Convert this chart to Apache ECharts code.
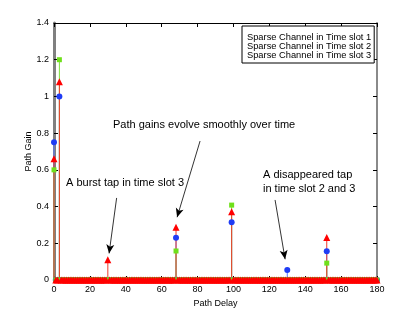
<!DOCTYPE html>
<html><head><meta charset="utf-8">
<script src="https://cdn.jsdelivr.net/npm/echarts@6/dist/echarts.min.js"></script>
<style>html,body{margin:0;padding:0;background:#fff}#c{width:415px;height:316px}</style>
</head><body><div id="c"></div>
<script>
// Path delays 0..180 (every delay has a marker; most gains are zero)
var maxDelay = 180;
// Non-zero taps
var tapDelays = [0, 3, 30, 68, 99, 130, 152];
var slot1Gains = [0.75, 1.00, 0, 0.23, 0.315, 0.055, 0.157];
var slot2Gains = [0.60, 1.20, 0, 0.158, 0.408, 0, 0.092];
var slot3Gains = [0.66, 1.08, 0.11, 0.287, 0.372, 0, 0.232];
var seriesNames = ['Sparse Channel in Time slot 1', 'Sparse Channel in Time slot 2', 'Sparse Channel in Time slot 3'];
var xTicks = [0, 20, 40, 60, 80, 100, 120, 140, 160, 180];
var yTicks = [0, 0.2, 0.4, 0.6, 0.8, 1, 1.2, 1.4];

function fullSeries(gains) {
  var out = [];
  for (var d = 0; d <= maxDelay; d++) {
    var i = tapDelays.indexOf(d);
    out.push([d, i >= 0 ? gains[i] : 0]);
  }
  return out;
}
var data1 = fullSeries(slot1Gains), data2 = fullSeries(slot2Gains), data3 = fullSeries(slot3Gains);

var font = 'Liberation Sans, Arial, Helvetica, sans-serif';
var chart = echarts.init(document.getElementById('c'), null, {renderer: 'canvas'});

function stems(data, color) {
  return {
    type: 'custom', silent: true, animation: false,
    data: data.filter(function (p) { return p[1] !== 0; }),
    renderItem: function (params, api) {
      var p0 = api.coord([api.value(0), 0]);
      var p1 = api.coord([api.value(0), api.value(1)]);
      return {type: 'line', shape: {x1: p0[0], y1: p0[1], x2: p1[0], y2: p1[1]},
        style: {stroke: color, lineWidth: 1}};
    }
  };
}
function markers(name, data, symbol, size, color) {
  return {
    type: 'scatter', name: name, data: data, symbol: symbol, symbolSize: size,
    itemStyle: {color: color, opacity: 1}, animation: false, silent: true
  };
}

var arrows = [
  [[34.9, 0.447], [30.7, 0.145]],
  [[81.4, 0.757], [68.6, 0.342]],
  [[123.2, 0.436], [128.8, 0.113]]
];

var option = {
  backgroundColor: '#fff',
  animation: false,
  grid: {left: 54, right: 38, top: 23, bottom: 36, containLabel: false},
  legend: {
    orient: 'vertical', left: 242, top: 26,
    data: seriesNames,
    icon: 'rect', itemWidth: 0, itemHeight: 9, itemGap: 0,
    padding: [7, 3, 3, 0],
    borderColor: '#000', borderWidth: 1, backgroundColor: '#fff',
    textStyle: {fontFamily: font, fontSize: 9.3, color: '#000', lineHeight: 9},
    selectedMode: false
  },
  xAxis: [{
    type: 'value', min: 0, max: 180, interval: 20, position: 'bottom',
    name: 'Path Delay', nameLocation: 'middle', nameGap: 15,
    nameTextStyle: {fontFamily: font, fontSize: 9, color: '#000'},
    axisLine: {show: true, onZero: false, lineStyle: {color: '#000', width: 1}},
    axisTick: {show: true, inside: true, length: 4, lineStyle: {color: '#000'}},
    axisLabel: {fontFamily: font, fontSize: 9, color: '#000', margin: 5},
    splitLine: {show: false}
  }, {
    type: 'value', min: 0, max: 180, interval: 20, position: 'top',
    axisLine: {show: true, onZero: false, lineStyle: {color: '#000', width: 1}},
    axisTick: {show: true, inside: true, length: 4, lineStyle: {color: '#000'}},
    axisLabel: {show: false}, splitLine: {show: false}
  }],
  yAxis: [{
    type: 'value', min: 0, max: 1.4, interval: 0.2, position: 'left',
    name: 'Path Gain', nameLocation: 'middle', nameGap: 21, nameRotate: 90,
    nameMoveOverlap: false,
    nameTextStyle: {fontFamily: font, fontSize: 9, color: '#000'},
    axisLine: {show: true, onZero: false, lineStyle: {color: '#808080', width: 3}},
    axisTick: {show: true, inside: true, length: 4, lineStyle: {color: '#000'}},
    axisLabel: {fontFamily: font, fontSize: 9, color: '#000', margin: 5},
    splitLine: {show: false}
  }, {
    type: 'value', min: 0, max: 1.4, interval: 0.2, position: 'right',
    axisLine: {show: true, onZero: false, lineStyle: {color: '#8a8a8a', width: 2}},
    axisTick: {show: true, inside: true, length: 4, lineStyle: {color: '#000'}},
    axisLabel: {show: false}, splitLine: {show: false}
  }],
  series: [
    stems(data1, '#5a78ff'),
    markers(seriesNames[0], data1, 'circle', 6, '#1f3cf5'),
    stems(data2, '#7ddf3a'),
    markers(seriesNames[1], data2, 'rect', 5, '#6fe01a'),
    stems(data3, '#f03a2a'),
    markers(seriesNames[2], data3, 'triangle', 7, '#ff0000'),
    {
      type: 'scatter', data: [], silent: true,
      markLine: {
        silent: true, animation: false,
        symbol: ['none', 'arrow'], symbolSize: [6, 9],
        lineStyle: {color: '#000', width: 0.8, type: 'solid'},
        label: {show: false},
        data: arrows.map(function (a) { return [{coord: a[0]}, {coord: a[1]}]; })
      }
    }
  ],
  graphic: [
    {type: 'text', left: 66, top: 177, style: {text: 'A burst tap in time slot 3', font: '11px ' + font, fill: '#000'}},
    {type: 'text', left: 113, top: 119, style: {text: 'Path gains evolve smoothly over time', font: '11px ' + font, fill: '#000'}},
    {type: 'text', left: 263, top: 168, style: {text: 'A disappeared tap\nin time slot 2 and 3', font: '11px ' + font, fill: '#000', lineHeight: 14}}
  ]
};
chart.setOption(option);
</script>
</body></html>
